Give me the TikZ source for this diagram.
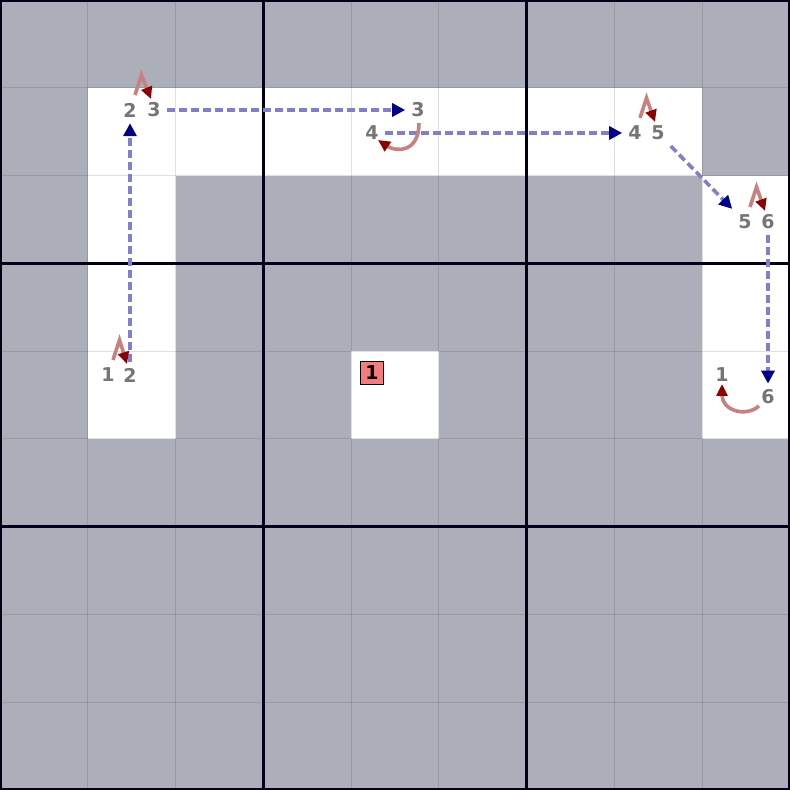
\documentclass[tikz,border=0pt]{standalone}
\usepackage{fontspec}
\setmainfont{DejaVu Sans}
\usepackage{xcolor}
\usepackage{tikz}
\usetikzlibrary{arrows.meta}
\definecolor{fond}{HTML}{ACAFBA}
\definecolor{trait}{HTML}{7F7FCC}
\definecolor{pointe}{HTML}{00008B}
\definecolor{rose}{HTML}{C88080}
\definecolor{rouge}{HTML}{8B0000}
\definecolor{saumon}{HTML}{F47C7C}

\begin{document}
\begin{tikzpicture}[x=1pt,y=1pt,
   fine/.style={black,opacity=0.12,line width=1pt},
   epaisse/.style={black!90!blue,line width=3pt},
   etiquette/.style={inner sep=6pt,text=black!54,font=\bfseries\fontsize{19}{19}\selectfont},
   but/.style={draw=black,line width=0.8pt,fill=saumon,minimum size=23pt,inner sep=0pt,font=\bfseries\fontsize{19}{19}\selectfont},
   trajet/.style={draw=trait,line width=3.6pt,dash pattern=on 8pt off 4pt,-{Triangle[length=13pt,width=13pt,color=pointe]}},
   virage/.style={draw=rose,line width=3.6pt,-{Triangle[length=12pt,width=11pt,color=rouge]}}]

  \useasboundingbox (0,0) rectangle (790,790);
  \fill[fond] (0,0) rectangle (790,790);
  \fill[white] (87.78,614.44) rectangle (702.22,702.22);
  \fill[white] (87.78,351.11) rectangle (175.56,614.44);
  \fill[white] (702.22,351.11) rectangle (790,614.44);
  \fill[white] (351.11,351.11) rectangle (438.89,438.89);

  \foreach \i in {1,2,4,5,7,8} {
    \draw[fine] (\i*87.78,0) -- (\i*87.78,790);
    \draw[fine] (0,\i*87.78) -- (790,\i*87.78);
  }
  \foreach \i in {3,6} {
    \draw[epaisse] (\i*87.78,0) -- (\i*87.78,790);
    \draw[epaisse] (0,\i*87.78) -- (790,\i*87.78);
  }
  \draw[epaisse,line width=4pt] (0,0) rectangle (790,790);

  \node[etiquette](a1) at (108,415) {1};
  \node[etiquette](a2) at (130,415) {2};
  \node[etiquette](b2) at (130,680) {2};
  \node[etiquette](b3) at (154,680) {3};
  \node[etiquette](c3) at (418,680) {3};
  \node[etiquette](c4) at (372,657) {4};
  \node[etiquette](d4) at (635,657) {4};
  \node[etiquette](d5) at (658,657) {5};
  \node[etiquette](e5) at (745,568) {5};
  \node[etiquette](e6) at (768,568) {6};
  \node[etiquette](f1) at (722,415) {1};
  \node[etiquette](f6) at (768,393) {6};
  \node[but](depart) at (372,417) {1};

  \foreach \from/\to in {a2/b2,b3/c3,c4/d4,d5/e5,e6/f6} \draw[trajet] (\from) -- (\to);
  \foreach \from/\to in {a1/a2,b2/b3,d4/d5,e5/e6}
    \draw[virage] ([shift={(5,15)}]\from.center) -- ++(6.5,20) -- ([shift={(-3,11)}]\to.center);
  \draw[virage] ([shift={(1,-13)}]c3.center) .. controls +(0,-30) and +(18,-12) .. ([shift={(6,-7)}]c4.center);
  \draw[virage] ([shift={(-9,-9)}]f6.center) .. controls +(-14,-12) and +(0,-26) .. ([shift={(0,-9)}]f1.center);
\end{tikzpicture}
\end{document}
